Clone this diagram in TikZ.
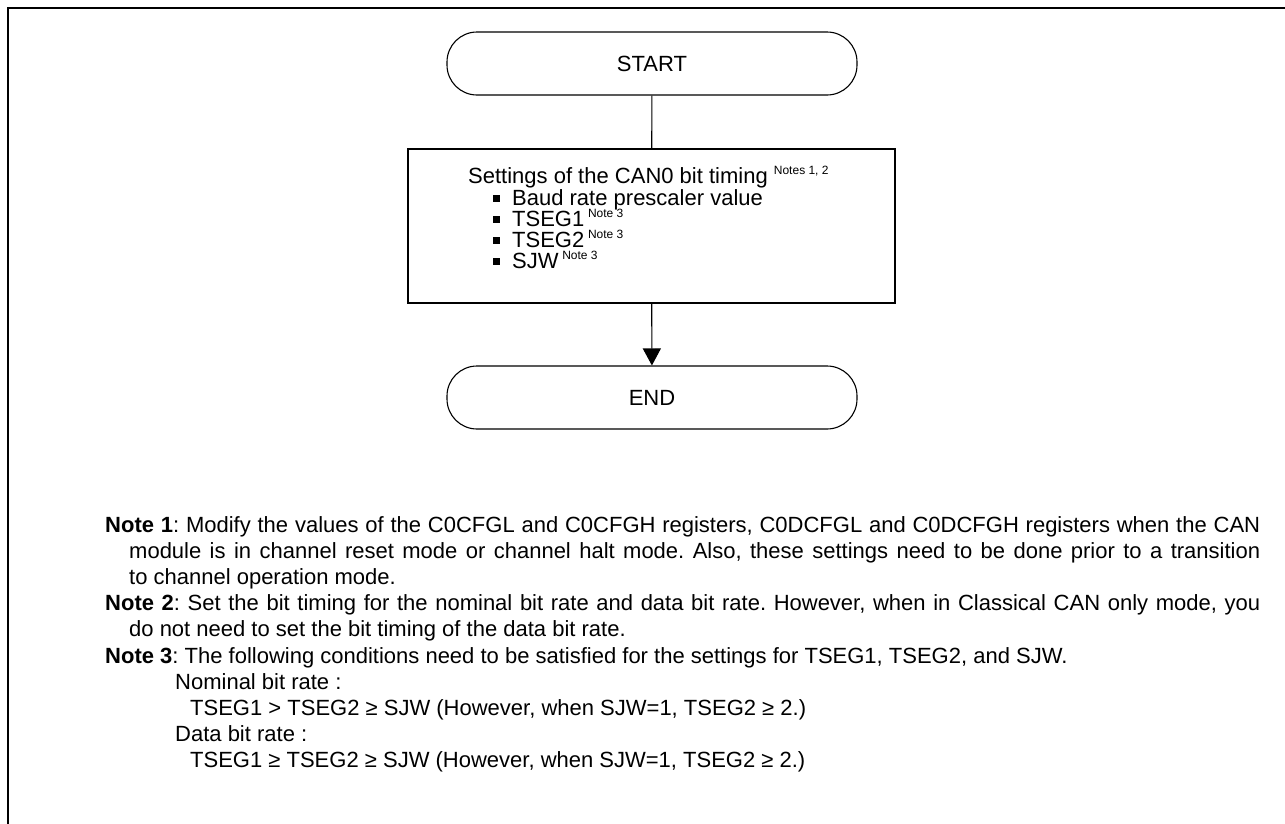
\documentclass[tikz,border=0pt]{standalone}
\usepackage{fontspec}
\setmainfont{Liberation Sans}
\usetikzlibrary{arrows.meta}

% small superscript used for the note references
\newcommand{\noteref}[1]{\raisebox{8.5pt}{\fontsize{12}{14}\selectfont #1}}
% square bullet of the item list
\newcommand{\sqbullet}{\rule[3.5pt]{6.5pt}{6.5pt}}

\begin{document}
\frenchspacing
\begin{tikzpicture}[x=1pt,y=-1pt,
  frame/.style={line width=2.6pt, line cap=rect},
  terminal/.style={draw, line width=1.1pt, rounded corners=30pt,
    minimum width=410pt, minimum height=63pt, inner sep=0pt,
    font=\fontsize{22}{26}\selectfont},
  stepbox/.style={draw, line width=1.1pt, minimum width=487pt,
    minimum height=154pt, inner sep=0pt},
  boxtext/.style={anchor=base west, inner sep=0pt,
    font=\fontsize{22}{26}\selectfont},
  notetext/.style={anchor=base west, inner sep=0pt,
    font=\fontsize{22}{26}\selectfont},
  flow/.style={line width=1.1pt},
  flowarrow/.style={line width=1.1pt, -{Triangle[length=17pt,width=18pt]}}
]
\useasboundingbox (0,0) rectangle (1285,823);

% outer frame: left and top edges
\draw[frame] (8,823) -- (8,8) -- (1285,8);

% flowchart
\node[terminal] (start) at (652,63.5) {START};
\node[stepbox] (set) at (651.5,226) {};
\node[terminal] (end) at (652,397.5) {END};

\draw[flow] (start) -- (set);
\draw[flowarrow] (set) -- (end);

% contents of the process box
\node[boxtext] (head) at (468,183) {Settings of the CAN0 bit timing \noteref{Notes 1, 2}};
\node[boxtext] (i1) at (493,205) {\sqbullet\hspace{12.5pt}Baud rate prescaler value};
\node[boxtext] (i2) at (493,226) {\sqbullet\hspace{12.5pt}TSEG1\,\noteref{Note 3}};
\node[boxtext] (i3) at (493,247) {\sqbullet\hspace{12.5pt}TSEG2\,\noteref{Note 3}};
\node[boxtext] (i4) at (493,268) {\sqbullet\hspace{12.5pt}SJW\,\noteref{Note 3}};

% notes
\node[notetext] (n1a) at (105,532) {\makebox[1155pt][s]{\textbf{Note 1}: Modify the values of the C0CFGL and C0CFGH registers, C0DCFGL and C0DCFGH registers when the CAN}};
\node[notetext] (n1b) at (129,558) {\makebox[1131pt][s]{module is in channel reset mode or channel halt mode. Also, these settings need to be done prior to a transition}};
\node[notetext] (n1c) at (129,584) {to channel operation mode.};
\node[notetext] (n2a) at (105,610) {\makebox[1155pt][s]{\textbf{Note 2}: Set the bit timing for the nominal bit rate and data bit rate. However, when in Classical CAN only mode, you}};
\node[notetext] (n2b) at (129,636) {do not need to set the bit timing of the data bit rate.};
\node[notetext] (n3a) at (105,663) {\textbf{Note 3}: The following conditions need to be satisfied for the settings for TSEG1, TSEG2, and SJW.};
\node[notetext] (n3b) at (175,689) {Nominal bit rate :};
\node[notetext] (n3c) at (190,715) {TSEG1 > TSEG2 ≥ SJW (However, when SJW=1, TSEG2 ≥ 2.)};
\node[notetext] (n3d) at (175,741) {Data bit rate :};
\node[notetext] (n3e) at (190,767) {TSEG1 ≥ TSEG2 ≥ SJW (However, when SJW=1, TSEG2 ≥ 2.)};
\end{tikzpicture}
\end{document}
